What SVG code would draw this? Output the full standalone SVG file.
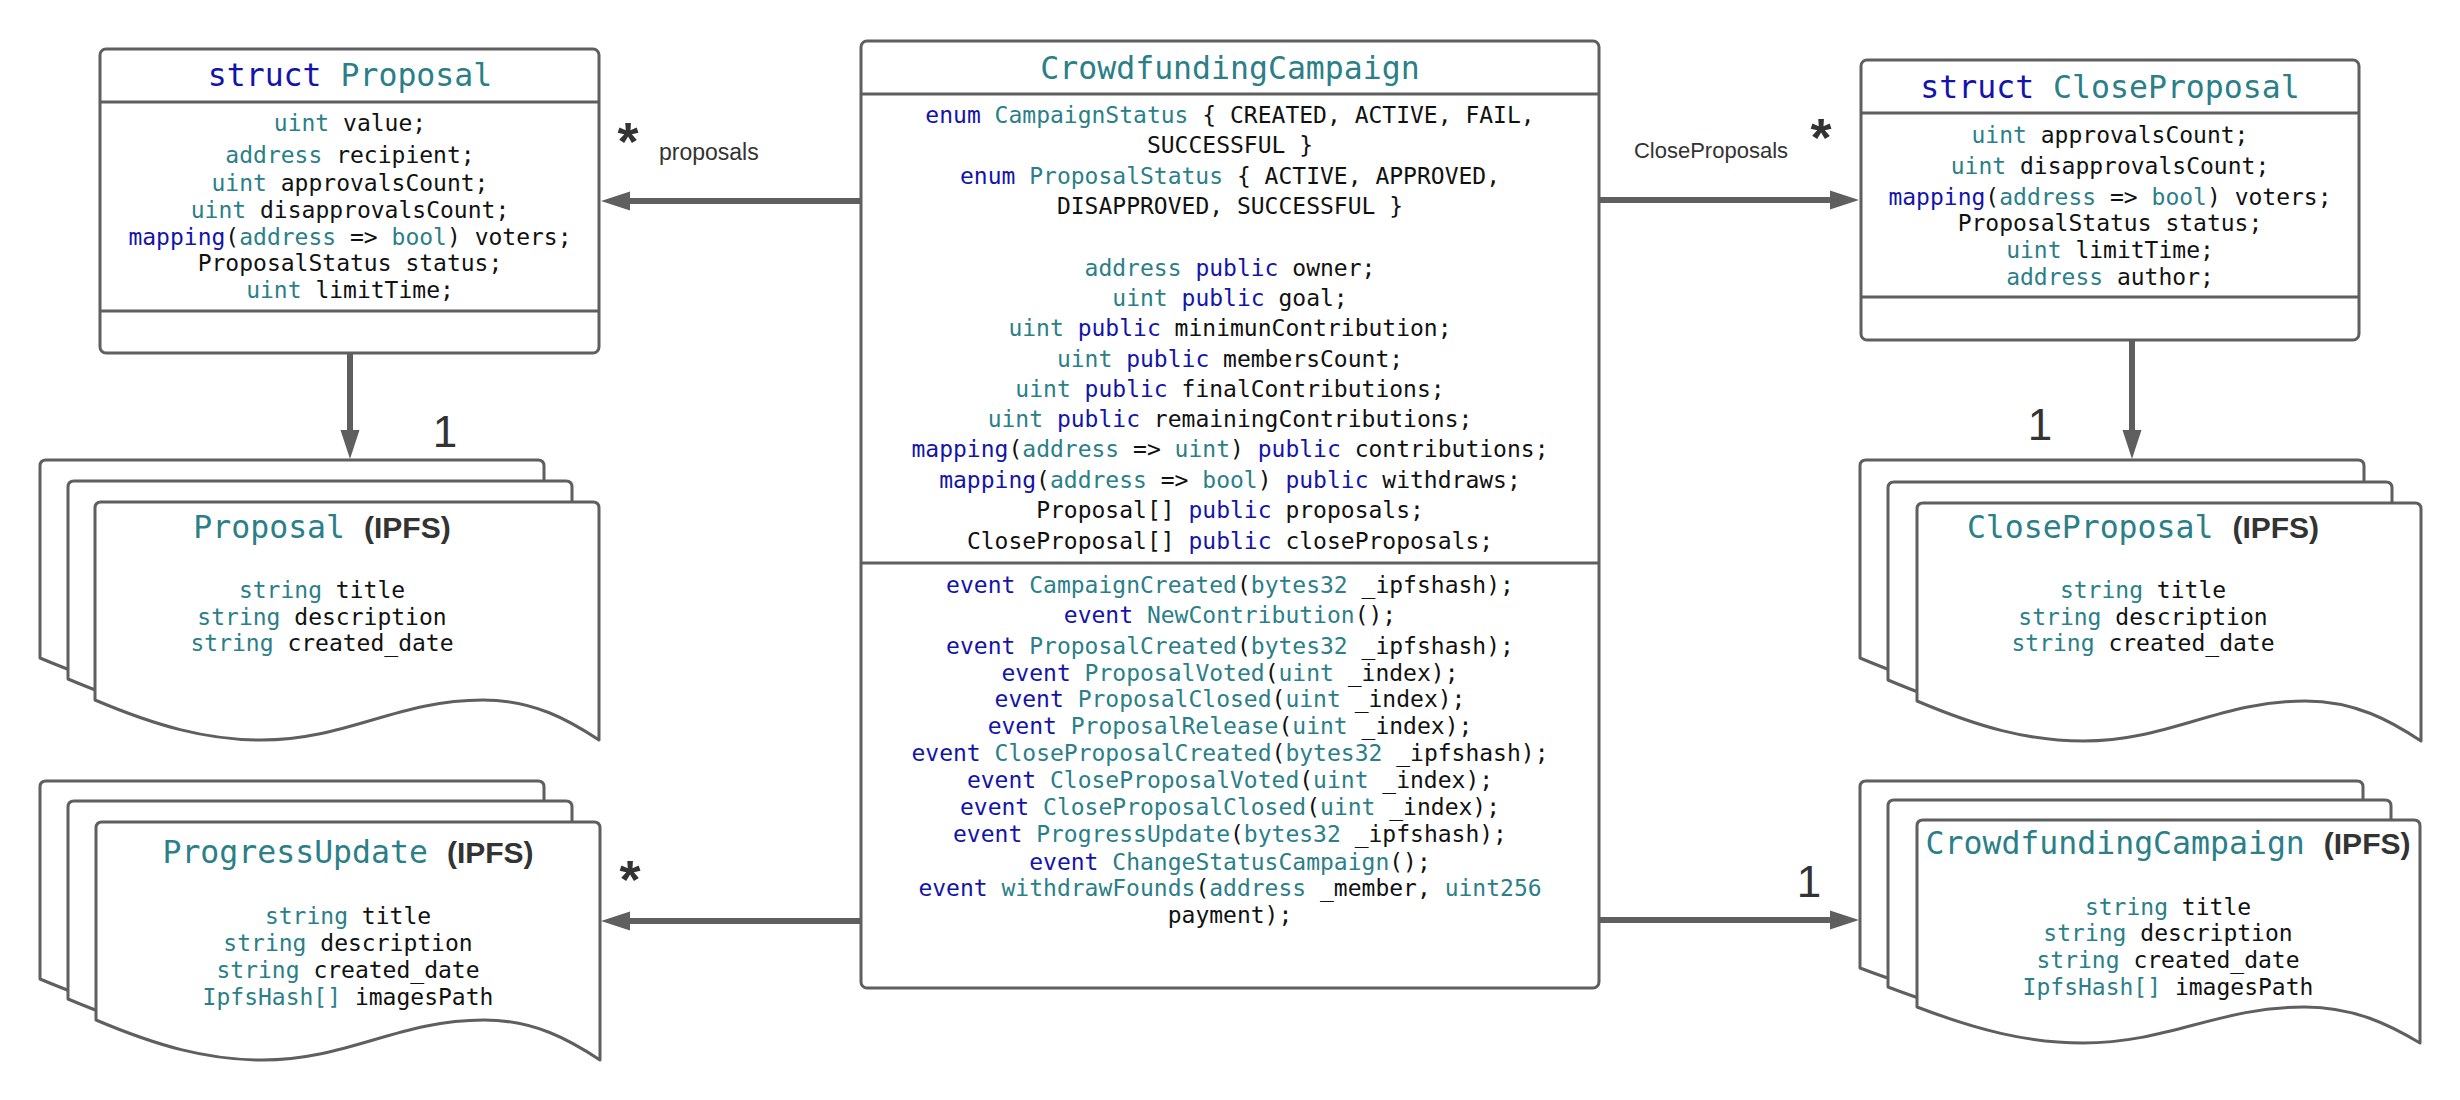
<svg xmlns="http://www.w3.org/2000/svg" xmlns:xlink="http://www.w3.org/1999/xlink" width="2460" height="1100" viewBox="0 0 2460 1100">
<style>
.m{font-family:"DejaVu Sans Mono",monospace;font-size:23px;fill:#111;text-anchor:middle}
.t{font-size:31.5px}
.k{fill:#1414aa}
.y{fill:#2a7f88}
.box{fill:#fff;stroke:#5f5f5f;stroke-width:3}
.dv{stroke:#5f5f5f;stroke-width:3}
.pg{fill:#fff;stroke:#5f5f5f;stroke-width:3;stroke-linejoin:round}
.ipfs{font-family:"Liberation Sans",Arial,sans-serif;font-weight:bold;fill:#333;font-size:30px}
.lbl{font-family:"Liberation Sans",Arial,sans-serif;fill:#333}
.ast{font-family:"Liberation Sans",Arial,sans-serif;fill:#333;font-size:54px;font-weight:bold;text-anchor:middle}
.conn{stroke:#5f5f5f;stroke-width:6;fill:none}
</style>
<defs>
<marker id="ah" markerUnits="userSpaceOnUse" markerWidth="30" markerHeight="20" viewBox="0 -10 30 20" refX="0" refY="0" orient="auto">
<path d="M0,-9.5 L29,0 L0,9.5 Z" fill="#5f5f5f"/>
</marker>
<path id="pageA" class="pg" d="M6,0 H498 Q504,0 504,6 V238 C473.8,218 438.5,198 388,198 C302.4,198 252,238 166.3,238 C110.9,238 60.5,223.6 0,198 V6 Q0,0 6,0 Z"/>
<path id="pageB" class="pg" d="M6,0 H497 Q503,0 503,6 V223 C472.8,205 437.6,187 387.3,187 C301.8,187 251.5,223 166,223 C110.7,223 60.4,210 0,187 V6 Q0,0 6,0 Z"/>
</defs>
<rect width="2460" height="1100" fill="#fff"/>

<g id="connectors">
<line class="conn" x1="861" y1="201" x2="630" y2="201" marker-end="url(#ah)"/>
<line class="conn" x1="1599" y1="200" x2="1830" y2="200" marker-end="url(#ah)"/>
<line class="conn" x1="350" y1="353" x2="350" y2="430" marker-end="url(#ah)"/>
<line class="conn" x1="2132" y1="340" x2="2132" y2="430" marker-end="url(#ah)"/>
<line class="conn" x1="861" y1="921" x2="630" y2="921" marker-end="url(#ah)"/>
<line class="conn" x1="1599" y1="920" x2="1830" y2="920" marker-end="url(#ah)"/>
<text class="ast" x="628" y="160">*</text>
<text class="lbl" x="659" y="160" font-size="23">proposals</text>
<text class="ast" x="1821" y="156">*</text>
<text class="lbl" x="1711" y="158" font-size="22" text-anchor="middle">CloseProposals</text>
<text class="lbl" x="445" y="447" font-size="44" text-anchor="middle">1</text>
<text class="lbl" x="2040" y="440" font-size="44" text-anchor="middle">1</text>
<text class="ast" x="630" y="898">*</text>
<text class="lbl" x="1809" y="897" font-size="44" text-anchor="middle">1</text>
</g>

<g id="struct-proposal">
<rect class="box" x="100" y="49" width="499" height="304" rx="6"/>
<line class="dv" x1="100" y1="102" x2="599" y2="102"/>
<line class="dv" x1="100" y1="311" x2="599" y2="311"/>
<text class="m t" x="350" y="86"><tspan class="k">struct</tspan> <tspan class="y">Proposal</tspan></text>
<text class="m" x="350" y="131"><tspan class="y">uint</tspan> value;</text>
<text class="m" x="350" y="163"><tspan class="y">address</tspan> recipient;</text>
<text class="m" x="350" y="191"><tspan class="y">uint</tspan> approvalsCount;</text>
<text class="m" x="350" y="218"><tspan class="y">uint</tspan> disapprovalsCount;</text>
<text class="m" x="350" y="245"><tspan class="k">mapping</tspan>(<tspan class="y">address</tspan> =&gt; <tspan class="y">bool</tspan>) voters;</text>
<text class="m" x="350" y="271">ProposalStatus status;</text>
<text class="m" x="350" y="298"><tspan class="y">uint</tspan> limitTime;</text>
</g>

<g id="crowdfunding-campaign">
<rect class="box" x="861" y="41" width="738" height="947" rx="6"/>
<line class="dv" x1="861" y1="94" x2="1599" y2="94"/>
<line class="dv" x1="861" y1="563" x2="1599" y2="563"/>
<text class="m t" x="1230" y="79"><tspan class="y">CrowdfundingCampaign</tspan></text>
<text class="m" x="1230" y="123"><tspan class="k">enum</tspan> <tspan class="y">CampaignStatus</tspan> { CREATED, ACTIVE, FAIL,</text>
<text class="m" x="1230" y="153">SUCCESSFUL }</text>
<text class="m" x="1230" y="184"><tspan class="k">enum</tspan> <tspan class="y">ProposalStatus</tspan> { ACTIVE, APPROVED,</text>
<text class="m" x="1230" y="214">DISAPPROVED, SUCCESSFUL }</text>
<text class="m" x="1230" y="276"><tspan class="y">address</tspan> <tspan class="k">public</tspan> owner;</text>
<text class="m" x="1230" y="306"><tspan class="y">uint</tspan> <tspan class="k">public</tspan> goal;</text>
<text class="m" x="1230" y="336"><tspan class="y">uint</tspan> <tspan class="k">public</tspan> minimunContribution;</text>
<text class="m" x="1230" y="367"><tspan class="y">uint</tspan> <tspan class="k">public</tspan> membersCount;</text>
<text class="m" x="1230" y="397"><tspan class="y">uint</tspan> <tspan class="k">public</tspan> finalContributions;</text>
<text class="m" x="1230" y="427"><tspan class="y">uint</tspan> <tspan class="k">public</tspan> remainingContributions;</text>
<text class="m" x="1230" y="457"><tspan class="k">mapping</tspan>(<tspan class="y">address</tspan> =&gt; <tspan class="y">uint</tspan>) <tspan class="k">public</tspan> contributions;</text>
<text class="m" x="1230" y="488"><tspan class="k">mapping</tspan>(<tspan class="y">address</tspan> =&gt; <tspan class="y">bool</tspan>) <tspan class="k">public</tspan> withdraws;</text>
<text class="m" x="1230" y="518">Proposal[] <tspan class="k">public</tspan> proposals;</text>
<text class="m" x="1230" y="549">CloseProposal[] <tspan class="k">public</tspan> closeProposals;</text>
<text class="m" x="1230" y="593"><tspan class="k">event</tspan> <tspan class="y">CampaignCreated</tspan>(<tspan class="y">bytes32</tspan> _ipfshash);</text>
<text class="m" x="1230" y="623"><tspan class="k">event</tspan> <tspan class="y">NewContribution</tspan>();</text>
<text class="m" x="1230" y="654"><tspan class="k">event</tspan> <tspan class="y">ProposalCreated</tspan>(<tspan class="y">bytes32</tspan> _ipfshash);</text>
<text class="m" x="1230" y="681"><tspan class="k">event</tspan> <tspan class="y">ProposalVoted</tspan>(<tspan class="y">uint</tspan> _index);</text>
<text class="m" x="1230" y="707"><tspan class="k">event</tspan> <tspan class="y">ProposalClosed</tspan>(<tspan class="y">uint</tspan> _index);</text>
<text class="m" x="1230" y="734"><tspan class="k">event</tspan> <tspan class="y">ProposalRelease</tspan>(<tspan class="y">uint</tspan> _index);</text>
<text class="m" x="1230" y="761"><tspan class="k">event</tspan> <tspan class="y">CloseProposalCreated</tspan>(<tspan class="y">bytes32</tspan> _ipfshash);</text>
<text class="m" x="1230" y="788"><tspan class="k">event</tspan> <tspan class="y">CloseProposalVoted</tspan>(<tspan class="y">uint</tspan> _index);</text>
<text class="m" x="1230" y="815"><tspan class="k">event</tspan> <tspan class="y">CloseProposalClosed</tspan>(<tspan class="y">uint</tspan> _index);</text>
<text class="m" x="1230" y="842"><tspan class="k">event</tspan> <tspan class="y">ProgressUpdate</tspan>(<tspan class="y">bytes32</tspan> _ipfshash);</text>
<text class="m" x="1230" y="870"><tspan class="k">event</tspan> <tspan class="y">ChangeStatusCampaign</tspan>();</text>
<text class="m" x="1230" y="896"><tspan class="k">event</tspan> <tspan class="y">withdrawFounds</tspan>(<tspan class="y">address</tspan> _member, <tspan class="y">uint256</tspan></text>
<text class="m" x="1230" y="923">payment);</text>
</g>

<g id="struct-closeproposal">
<rect class="box" x="1861" y="60" width="498" height="280" rx="6"/>
<line class="dv" x1="1861" y1="113" x2="2359" y2="113"/>
<line class="dv" x1="1861" y1="297" x2="2359" y2="297"/>
<text class="m t" x="2110" y="98"><tspan class="k">struct</tspan> <tspan class="y">CloseProposal</tspan></text>
<text class="m" x="2110" y="143"><tspan class="y">uint</tspan> approvalsCount;</text>
<text class="m" x="2110" y="174"><tspan class="y">uint</tspan> disapprovalsCount;</text>
<text class="m" x="2110" y="205"><tspan class="k">mapping</tspan>(<tspan class="y">address</tspan> =&gt; <tspan class="y">bool</tspan>) voters;</text>
<text class="m" x="2110" y="231">ProposalStatus status;</text>
<text class="m" x="2110" y="258"><tspan class="y">uint</tspan> limitTime;</text>
<text class="m" x="2110" y="285"><tspan class="y">address</tspan> author;</text>
</g>

<g id="proposal-ipfs">
<use xlink:href="#pageA" transform="translate(40,460)"/>
<use xlink:href="#pageA" transform="translate(68,481)"/>
<use xlink:href="#pageA" transform="translate(95,502)"/>
<text class="m" x="322" y="538"><tspan class="t y">Proposal </tspan><tspan class="ipfs">(IPFS)</tspan></text>
<text class="m" x="322" y="598"><tspan class="y">string</tspan> title</text>
<text class="m" x="322" y="625"><tspan class="y">string</tspan> description</text>
<text class="m" x="322" y="651"><tspan class="y">string</tspan> created_date</text>
</g>

<g id="progressupdate-ipfs">
<use xlink:href="#pageA" transform="translate(40,781)"/>
<use xlink:href="#pageA" transform="translate(68,801)"/>
<use xlink:href="#pageA" transform="translate(96,822)"/>
<text class="m" x="348" y="863"><tspan class="t y">ProgressUpdate </tspan><tspan class="ipfs">(IPFS)</tspan></text>
<text class="m" x="348" y="924"><tspan class="y">string</tspan> title</text>
<text class="m" x="348" y="951"><tspan class="y">string</tspan> description</text>
<text class="m" x="348" y="978"><tspan class="y">string</tspan> created_date</text>
<text class="m" x="348" y="1005"><tspan class="y">IpfsHash[]</tspan> imagesPath</text>
</g>

<g id="closeproposal-ipfs">
<use xlink:href="#pageA" transform="translate(1860,460)"/>
<use xlink:href="#pageA" transform="translate(1888,482)"/>
<use xlink:href="#pageA" transform="translate(1917,503)"/>
<text class="m" x="2143" y="538"><tspan class="t y">CloseProposal </tspan><tspan class="ipfs">(IPFS)</tspan></text>
<text class="m" x="2143" y="598"><tspan class="y">string</tspan> title</text>
<text class="m" x="2143" y="625"><tspan class="y">string</tspan> description</text>
<text class="m" x="2143" y="651"><tspan class="y">string</tspan> created_date</text>
</g>

<g id="crowdfundingcampaign-ipfs">
<use xlink:href="#pageB" transform="translate(1860,781)"/>
<use xlink:href="#pageB" transform="translate(1888,800)"/>
<use xlink:href="#pageB" transform="translate(1917,820)"/>
<text class="m" x="2168" y="854"><tspan class="t y">CrowdfundingCampaign </tspan><tspan class="ipfs">(IPFS)</tspan></text>
<text class="m" x="2168" y="915"><tspan class="y">string</tspan> title</text>
<text class="m" x="2168" y="941"><tspan class="y">string</tspan> description</text>
<text class="m" x="2168" y="968"><tspan class="y">string</tspan> created_date</text>
<text class="m" x="2168" y="995"><tspan class="y">IpfsHash[]</tspan> imagesPath</text>
</g>
</svg>
